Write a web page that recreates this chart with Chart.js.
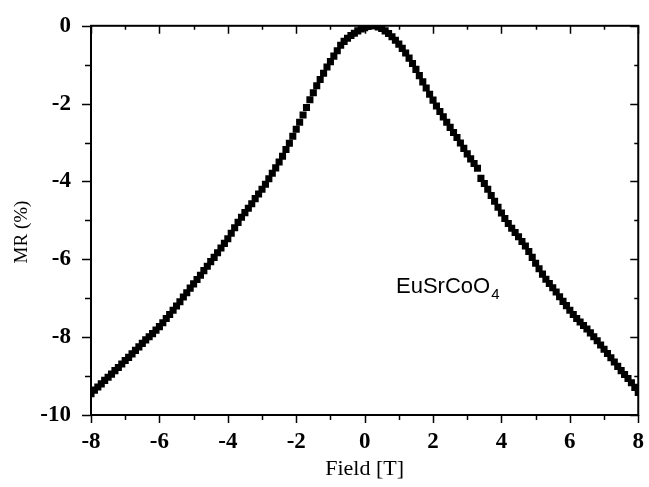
<!DOCTYPE html>
<html>
<head>
<meta charset="utf-8">
<script src="https://cdn.jsdelivr.net/npm/chart.js@4/dist/chart.umd.min.js"></script>
<style>
  html, body { margin: 0; padding: 0; background: #fff; }
  canvas { display: block; }
</style>
</head>
<body>
<canvas id="grafico-mr" width="649" height="487"></canvas>
<script>
// ===== 1. Dados =====
const campo = [
  -8.0, -7.9, -7.8, -7.7, -7.6, -7.5, -7.4, -7.3, -7.2, -7.1,
  -7.0, -6.9, -6.8, -6.7, -6.6, -6.5, -6.4, -6.3, -6.2, -6.1,
  -6.0, -5.9, -5.8, -5.7, -5.6, -5.5, -5.4, -5.3, -5.2, -5.1,
  -5.0, -4.9, -4.8, -4.7, -4.6, -4.5, -4.4, -4.3, -4.2, -4.1,
  -4.0, -3.9, -3.8, -3.7, -3.6, -3.5, -3.4, -3.3, -3.2, -3.1,
  -3.0, -2.9, -2.8, -2.7, -2.6, -2.5, -2.4, -2.3, -2.2, -2.1,
  -2.0, -1.9, -1.8, -1.7, -1.6, -1.5, -1.4, -1.3, -1.2, -1.1,
  -1.0, -0.9, -0.8, -0.7, -0.6, -0.5, -0.4, -0.3, -0.2, -0.1,
   0.0,  0.1,  0.2,  0.3,  0.4,  0.5,  0.6,  0.7,  0.8,  0.9,
   1.0,  1.1,  1.2,  1.3,  1.4,  1.5,  1.6,  1.7,  1.8,  1.9,
   2.0,  2.1,  2.2,  2.3,  2.4,  2.5,  2.6,  2.7,  2.8,  2.9,
   3.0,  3.1,  3.2,  3.3,  3.4,  3.5,  3.6,  3.7,  3.8,  3.9,
   4.0,  4.1,  4.2,  4.3,  4.4,  4.5,  4.6,  4.7,  4.8,  4.9,
   5.0,  5.1,  5.2,  5.3,  5.4,  5.5,  5.6,  5.7,  5.8,  5.9,
   6.0,  6.1,  6.2,  6.3,  6.4,  6.5,  6.6,  6.7,  6.8,  6.9,
   7.0,  7.1,  7.2,  7.3,  7.4,  7.5,  7.6,  7.7,  7.8,  7.9,
   8.0
];

const mr = [
  -9.45, -9.36, -9.28, -9.20, -9.11, -9.03, -8.95, -8.86, -8.78, -8.69,
  -8.60, -8.52, -8.43, -8.34, -8.25, -8.16, -8.07, -7.99, -7.91, -7.82,
  -7.73, -7.63, -7.52, -7.42, -7.31, -7.20, -7.09, -6.97, -6.86, -6.74,
  -6.63, -6.52, -6.41, -6.29, -6.18, -6.06, -5.95, -5.83, -5.71, -5.59,
  -5.47, -5.33, -5.19, -5.05, -4.92, -4.80, -4.69, -4.57, -4.44, -4.32,
  -4.20, -4.07, -3.93, -3.79, -3.65, -3.50, -3.35, -3.18, -3.02, -2.84,
  -2.66, -2.48, -2.29, -2.10, -1.90, -1.72, -1.54, -1.38, -1.22, -1.06,
  -0.92, -0.78, -0.64, -0.50, -0.40, -0.32, -0.25, -0.19, -0.13, -0.08,
  -0.05, -0.02,  0.00,  0.00, -0.03, -0.07, -0.13, -0.20, -0.28, -0.37,
  -0.47, -0.58, -0.70, -0.83, -0.97, -1.12, -1.28, -1.44, -1.60, -1.76,
  -1.91, -2.06, -2.20, -2.34, -2.48, -2.61, -2.74, -2.87, -3.01, -3.15,
  -3.29, -3.42, -3.54, -3.66, -3.92, -4.05, -4.20, -4.36, -4.51, -4.66,
  -4.81, -4.95, -5.08, -5.20, -5.31, -5.42, -5.54, -5.66, -5.80, -5.95,
  -6.10, -6.24, -6.38, -6.51, -6.62, -6.73, -6.84, -6.96, -7.08, -7.19,
  -7.31, -7.42, -7.52, -7.61, -7.70, -7.79, -7.89, -7.99, -8.09, -8.20,
  -8.31, -8.42, -8.53, -8.64, -8.75, -8.86, -8.96, -9.06, -9.17, -9.29,
  -9.42
];

// eixos
const limitesX = [-8, 8];
const limitesY = [-10, 0];
const rotuloX = 'Field [T]';
const rotuloY = 'MR (%)';
const amostra = 'EuSrCoO';
const amostraIndice = '4';


// ===== 2. Moldura, ticks e textos =====
const moldura = {
  id: 'moldura',
  afterDraw(chart) {
    const { ctx, chartArea: a, scales: { x, y } } = chart;
    ctx.save();
    ctx.strokeStyle = '#000';

    // ticks (maiores nos pares)
    ctx.lineWidth = 1.5;
    ctx.beginPath();
    x.ticks.forEach(t => {
      const px = Math.round(x.getPixelForValue(t.value)) + 0.5;
      const maior = t.value % 2 === 0;
      ctx.moveTo(px, a.bottom); ctx.lineTo(px, a.bottom + (maior ? 8 : 5));
      ctx.moveTo(px, a.top); ctx.lineTo(px, a.top + (maior ? 8 : 4));
    });
    y.ticks.forEach(t => {
      const py = Math.round(y.getPixelForValue(t.value)) + 0.5;
      const maior = t.value % 2 === 0;
      ctx.moveTo(a.left, py); ctx.lineTo(a.left - (maior ? 9 : 6), py);
      ctx.moveTo(a.right, py); ctx.lineTo(a.right - (maior ? 8 : 4), py);
    });
    ctx.stroke();

    // caixa
    ctx.lineWidth = 2;
    ctx.strokeRect(a.left, a.top, a.right - a.left, a.bottom - a.top);

    // titulo do eixo y
    ctx.fillStyle = '#000';
    ctx.font = '19px "Liberation Serif"';
    ctx.textAlign = 'center';
    ctx.textBaseline = 'middle';
    ctx.translate(22, 232);
    ctx.rotate(-Math.PI / 2);
    ctx.fillText(rotuloY, 0, 0);
    ctx.restore();

    // nome da amostra
    ctx.save();
    ctx.fillStyle = '#000';
    ctx.textBaseline = 'alphabetic';
    ctx.font = '22px "Liberation Sans"';
    const x0 = 396, y0 = 293;
    ctx.fillText(amostra, x0, y0);
    const w = ctx.measureText(amostra).width;
    ctx.font = '15px "Liberation Sans"';
    ctx.fillText(amostraIndice, x0 + w + 1, y0 + 6);
    ctx.restore();
  }
};


// ===== 3. Grafico =====
const fonteTick = { family: 'Liberation Serif', weight: 'bold', size: 23 };

new Chart(document.getElementById('grafico-mr'), {
  type: 'scatter',
  data: {
    datasets: [{
      data: campo.map((v, i) => ({ x: v, y: mr[i] })),
      pointStyle: 'rect',
      pointRadius: 5,
      pointBorderWidth: 0,
      backgroundColor: '#000',
      borderColor: '#000'
    }]
  },
  options: {
    responsive: false,
    animation: false,
    layout: { padding: { left: 0, right: 7, top: 16, bottom: 0 } },
    plugins: { legend: { display: false }, tooltip: { enabled: false } },
    scales: {
      x: {
        type: 'linear',
        min: limitesX[0],
        max: limitesX[1],
        afterFit: s => { s.height = 72; },
        border: { display: false },
        grid: { display: false },
        ticks: {
          stepSize: 1,
          color: '#000',
          font: fonteTick,
          padding: 5,
          maxRotation: 0,
          autoSkip: false,
          callback: v => (v % 2 === 0 ? v : '')
        },
        title: {
          display: true,
          text: rotuloX,
          color: '#000',
          font: { family: 'Liberation Serif', size: 22 },
          padding: { top: 0, bottom: 5 }
        }
      },
      y: {
        type: 'linear',
        min: limitesY[0],
        max: limitesY[1],
        afterFit: s => { s.width = 91; },
        border: { display: false },
        grid: { display: false },
        ticks: {
          stepSize: 1,
          color: '#000',
          font: fonteTick,
          padding: 12,
          autoSkip: false,
          callback: v => (v % 2 === 0 ? v : '')
        }
      }
    }
  },
  plugins: [moldura]
});
</script>
</body>
</html>
